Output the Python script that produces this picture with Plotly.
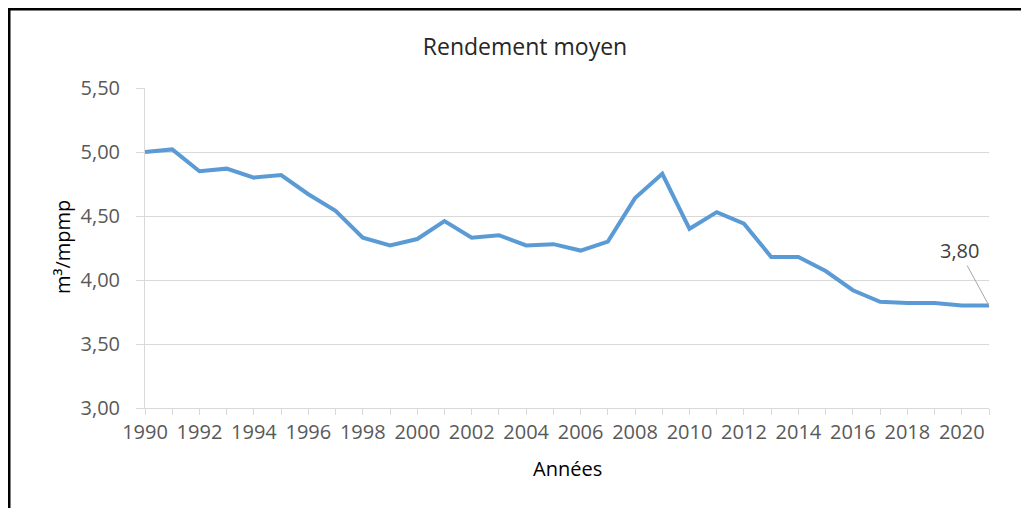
import plotly.graph_objects as go

# data
years = list(range(1990, 2022))
rendement = [5.00, 5.02, 4.85, 4.87, 4.80, 4.82, 4.67, 4.54, 4.33, 4.27,
             4.32, 4.46, 4.33, 4.35, 4.27, 4.28, 4.23, 4.30, 4.64, 4.83,
             4.40, 4.53, 4.44, 4.18, 4.18, 4.07, 3.92, 3.83, 3.82, 3.82,
             3.80, 3.80]
y_ticks = [3.00, 3.50, 4.00, 4.50, 5.00, 5.50]

FONT = "Open Sans"
GRID = "#d9d9d9"
TICKFONT = dict(family=FONT, size=20, color="#595959")

# the page body adds an 8px offset, so the figure is shrunk by that much
W, H = 1021, 500

fig = go.Figure()
fig.add_trace(go.Scatter(
    x=years, y=rendement, mode="lines",
    line=dict(color="#5b9bd5", width=4),
    hoverinfo="x+y", showlegend=False,
))

fig.update_layout(
    width=W, height=H,
    margin=dict(l=137, r=40, t=80, b=100),
    paper_bgcolor="white", plot_bgcolor="white",
    separators=", ",
    title=dict(text="Rendement moyen", x=517 / W, xanchor="center",
               y=1 - 39 / H, yanchor="middle",
               font=dict(family=FONT, size=23, color="#262626")),
    xaxis=dict(
        range=[1990, 2021], tick0=1990, dtick=2,
        showgrid=False, zeroline=False,
        showline=True, linecolor=GRID, linewidth=1,
        ticks="outside", ticklen=6, tickcolor=GRID,
        minor=dict(dtick=1, ticks="outside", ticklen=6, tickcolor=GRID),
        tickfont=TICKFONT,
    ),
    yaxis=dict(
        range=[3.0, 5.5], tickvals=y_ticks, tickformat=".2f",
        showgrid=True, gridcolor=GRID, gridwidth=1, zeroline=False,
        showline=True, linecolor=GRID, linewidth=1,
        ticks="outside", ticklen=8, tickcolor=GRID,
        ticklabelstandoff=12,
        tickfont=TICKFONT,
    ),
)

# axis titles
fig.add_annotation(text="Années", xref="paper", yref="paper",
                   x=(567 - 145) / 844, y=(408 - 468) / 320,
                   showarrow=False, xanchor="center", yanchor="middle",
                   font=dict(family=FONT, size=20, color="#000000"))
fig.add_annotation(text="m³/mpmp", xref="paper", yref="paper",
                   x=(62 - 145) / 844, y=(408 - 247) / 320, textangle=-90,
                   showarrow=False, xanchor="center", yanchor="middle",
                   font=dict(family=FONT, size=20, color="#000000"))

# data label for the last point
fig.add_annotation(x=years[-1], y=rendement[-1],
                   text=f"{rendement[-1]:.2f}".replace(".", ","),
                   showarrow=True, arrowhead=0, arrowwidth=1,
                   arrowcolor="#a6a6a6", ax=-30, ay=-55, standoff=0,
                   font=dict(family=FONT, size=20, color="#404040"))

# outer frame (left and top edges visible, rest runs off the page)
fig.add_shape(type="rect", xref="paper", yref="paper",
              x0=(9 - 145) / 844, x1=1.2, y0=-0.5, y1=(408 - 9) / 320,
              line=dict(color="black", width=3), fillcolor="rgba(0,0,0,0)")

fig.write_html("out.html")
